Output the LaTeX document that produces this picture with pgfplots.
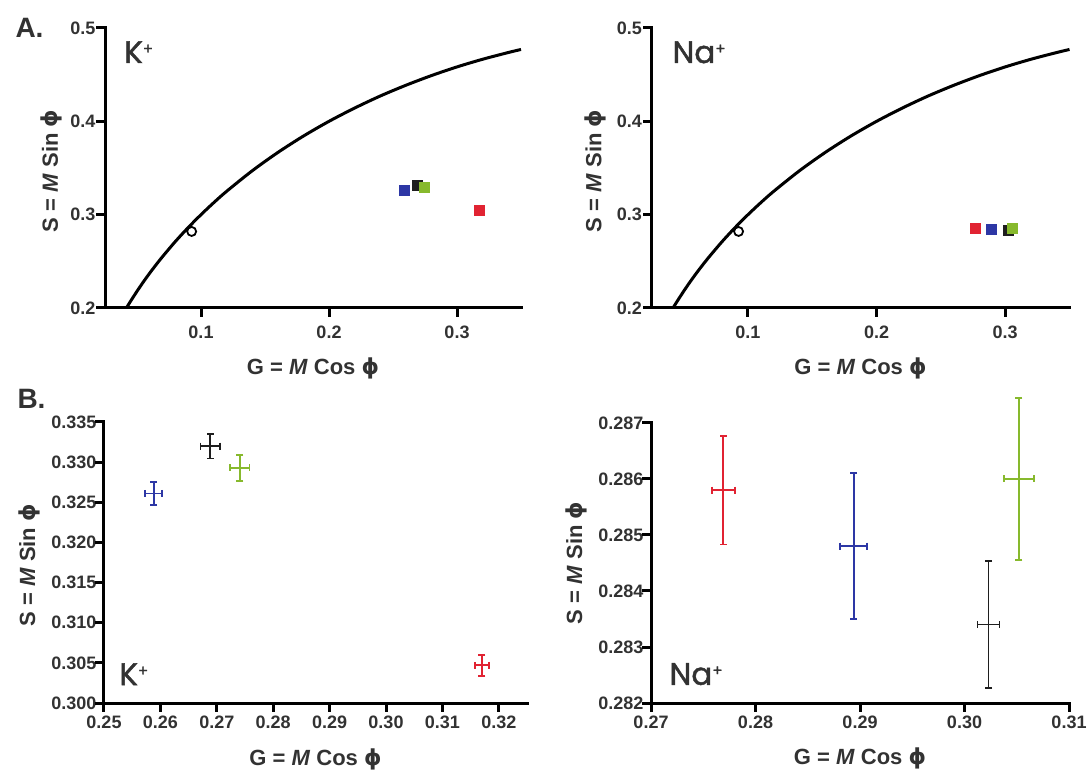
\documentclass[border=0pt]{standalone}
\usepackage{fontspec}
\setmainfont{Liberation Sans}
\newfontfamily\ionfont{Poppins}[FakeBold=1.5]
\newfontfamily\phifont{DejaVu Sans}
\usepackage{pgfplots}
\usepackage{pgfplotstable}
\pgfplotsset{compat=1.18}

\definecolor{cblue}{RGB}{45,55,165}
\definecolor{cred}{RGB}{225,35,50}
\definecolor{cgreen}{RGB}{135,185,45}
\definecolor{cblack}{RGB}{30,30,30}
\definecolor{labelgray}{RGB}{50,50,50}

\newcommand{\phisym}{{\phifont\bfseries ϕ}}

\pgfplotsset{
  panel/.style={
    scale only axis,
    axis x line=bottom, axis y line=left,
    x axis line style={-, line width=3pt},
    y axis line style={-, line width=3pt},
    tick align=outside, major tick length=0pt,
    tick label style={font=\fontsize{18}{18}\selectfont\bfseries, text=labelgray},
    label style={font=\fontsize{22}{22}\selectfont\bfseries, text=labelgray},
    /pgf/number format/assume math mode=true,
    clip=false,
    xlabel={G = \textit{M} Cos \phisym},
    ylabel={S = \textit{M} Sin \phisym},
  },
  phasor/.style={
    panel, xmin=0.025, xmax=0.35, ymin=0.2, ymax=0.5,
    xtick={0.1,0.2,0.3}, ytick={0.2,0.3,0.4,0.5},
    xticklabel shift=14pt, yticklabel shift=6pt,
    height=280pt,
  },
  sq/.style={only marks, mark=square*, mark size=5pt, color=#1, mark options={draw=#1, fill=#1}},
  % horizontal and vertical halves of an error cross, each with end caps
  hbar/.style={color=#1, line width=1.8pt, mark=|, mark size=3.5pt, mark options={line width=1.8pt}},
  vbar/.style={color=#1, line width=1.8pt, mark=-, mark size=3.5pt, mark options={line width=1.8pt}},
}
\tikzset{
  ion/.style={anchor=base west, font=\ionfont\fontsize{31}{31}\selectfont, text=labelgray},
  frame/.style={line width=3pt, black, line cap=rect},
  tk/.style={line width=3pt, black},
}
\newcommand{\ionplus}{\textsuperscript{\fontsize{15}{15}\selectfont +}}

% universal semicircle s = sqrt(g - g^2), tabulated
\pgfplotstableread{
g s
0.0417 0.2000
0.045 0.2073
0.050 0.2179
0.055 0.2280
0.060 0.2375
0.065 0.2465
0.070 0.2551
0.080 0.2713
0.090 0.2862
0.100 0.3000
0.110 0.3129
0.120 0.3250
0.140 0.3470
0.160 0.3666
0.180 0.3842
0.200 0.4000
0.220 0.4142
0.240 0.4271
0.260 0.4386
0.280 0.4490
0.300 0.4583
0.320 0.4665
0.340 0.4737
0.350 0.4770
}\semicircle

\begin{document}
\begin{tikzpicture}
\useasboundingbox (0,0) rectangle (1091pt,773pt);

% ---------------- A, K+ ----------------
\begin{axis}[phasor, at={(105pt,465pt)}, anchor=south west, width=416pt,
  xlabel style={at={(axis description cs:0.5,-0.239)}, anchor=base},
  ylabel style={at={(axis description cs:-0.113,0.49)}, anchor=base}]
\draw[frame] (rel axis cs:1,0) -- (rel axis cs:0,0) -- (rel axis cs:0,1);
\pgfplotsinvokeforeach{0.1,0.2,0.3}{\draw[tk] (axis cs:#1,0.2) -- ([yshift=-9pt]axis cs:#1,0.2);}
\pgfplotsinvokeforeach{0.2,0.3,0.4,0.5}{\draw[tk] (axis cs:0.025,#1) -- ([xshift=-9pt]axis cs:0.025,#1);}
\addplot[black, line width=3pt, smooth] table {\semicircle};
\addplot[only marks, mark=o, mark size=4.5pt, mark options={line width=1.8pt, draw=black, fill=white}] coordinates {(0.0927,0.282)};
\addplot[sq=cblue]  coordinates {(0.2588,0.3261)};
\addplot[sq=cblack] coordinates {(0.2688,0.3320)};
\addplot[sq=cgreen] coordinates {(0.2741,0.3293)};
\addplot[sq=cred]   coordinates {(0.3170,0.3047)};
\node[ion] at (axis description cs:0.038,0.875) {K\ionplus};
\end{axis}

% ---------------- A, Na+ ----------------
\begin{axis}[phasor, at={(651.5pt,465pt)}, anchor=south west, width=418pt,
  xlabel style={at={(axis description cs:0.5,-0.239)}, anchor=base},
  ylabel style={at={(axis description cs:-0.12,0.49)}, anchor=base}]
\draw[frame] (rel axis cs:1,0) -- (rel axis cs:0,0) -- (rel axis cs:0,1);
\pgfplotsinvokeforeach{0.1,0.2,0.3}{\draw[tk] (axis cs:#1,0.2) -- ([yshift=-9pt]axis cs:#1,0.2);}
\pgfplotsinvokeforeach{0.2,0.3,0.4,0.5}{\draw[tk] (axis cs:0.025,#1) -- ([xshift=-9pt]axis cs:0.025,#1);}
\addplot[black, line width=3pt, smooth] table {\semicircle};
\addplot[only marks, mark=o, mark size=4.5pt, mark options={line width=1.8pt, draw=black, fill=white}] coordinates {(0.0927,0.282)};
\addplot[sq=cred]   coordinates {(0.2769,0.2858)};
\addplot[sq=cblue]  coordinates {(0.2894,0.2848)};
\addplot[sq=cblack] coordinates {(0.3023,0.2834)};
\addplot[sq=cgreen] coordinates {(0.3052,0.2860)};
\node[ion] at (axis description cs:0.042,0.875) {Na\ionplus};
\end{axis}

% ---------------- B, K+ ----------------
% mean +- error: blue (0.2588,0.3261)+-(0.0015,0.0014), black (0.2688,0.3320)+-(0.0017,0.00155),
% green (0.2741,0.3293)+-(0.0017,0.0016), red (0.3170,0.3047)+-(0.0012,0.0013)
\begin{axis}[panel, at={(104pt,70pt)}, anchor=south west, width=423pt, height=281pt,
  xmin=0.25, xmax=0.325, ymin=0.300, ymax=0.335,
  xtick={0.25,0.26,0.27,0.28,0.29,0.30,0.31,0.32},
  ytick={0.300,0.305,0.310,0.315,0.320,0.325,0.330,0.335},
  xticklabel shift=9pt, yticklabel shift=4pt,
  xticklabel style={/pgf/number format/.cd, fixed, fixed zerofill, precision=2},
  yticklabel style={/pgf/number format/.cd, fixed, fixed zerofill, precision=3},
  xlabel style={at={(axis description cs:0.5,-0.221)}, anchor=base},
  ylabel style={at={(axis description cs:-0.163,0.49)}, anchor=base}]
\draw[frame] (rel axis cs:1,0) -- (rel axis cs:0,0) -- (rel axis cs:0,1);
\pgfplotsinvokeforeach{0.25,0.26,0.27,0.28,0.29,0.30,0.31,0.32}{\draw[tk] (axis cs:#1,0.3) -- ([yshift=-9pt]axis cs:#1,0.3);}
\pgfplotsinvokeforeach{0.300,0.305,0.310,0.315,0.320,0.325,0.330,0.335}{\draw[tk] (axis cs:0.25,#1) -- ([xshift=-9pt]axis cs:0.25,#1);}
\addplot[hbar=cblue]  coordinates {(0.2573,0.3261) (0.2603,0.3261)};
\addplot[vbar=cblue]  coordinates {(0.2588,0.3247) (0.2588,0.3275)};
\addplot[hbar=cblack] coordinates {(0.2671,0.3320) (0.2705,0.3320)};
\addplot[vbar=cblack] coordinates {(0.2688,0.33045) (0.2688,0.33355)};
\addplot[hbar=cgreen] coordinates {(0.2724,0.3293) (0.2758,0.3293)};
\addplot[vbar=cgreen] coordinates {(0.2741,0.3277) (0.2741,0.3309)};
\addplot[hbar=cred]   coordinates {(0.3158,0.3047) (0.3182,0.3047)};
\addplot[vbar=cred]   coordinates {(0.3170,0.3034) (0.3170,0.3060)};
\node[ion] at (axis description cs:0.028,0.064) {K\ionplus};
\end{axis}

% ---------------- B, Na+ ----------------
% mean +- error: red (0.2769,0.2858)+-(0.0011,0.00097), blue (0.2894,0.2848)+-(0.0013,0.0013),
% black (0.3023,0.2834)+-(0.00105,0.00113), green (0.3052,0.2860)+-(0.00145,0.00144)
\begin{axis}[panel, at={(651pt,70pt)}, anchor=south west, width=418pt, height=280pt,
  xmin=0.27, xmax=0.31, ymin=0.282, ymax=0.287,
  xtick={0.27,0.28,0.29,0.30,0.31}, ytick={0.282,0.283,0.284,0.285,0.286,0.287},
  xticklabel shift=9pt, yticklabel shift=4pt,
  xticklabel style={/pgf/number format/.cd, fixed, fixed zerofill, precision=2},
  yticklabel style={/pgf/number format/.cd, fixed, fixed zerofill, precision=3},
  xlabel style={at={(axis description cs:0.5,-0.221)}, anchor=base},
  ylabel style={at={(axis description cs:-0.165,0.5)}, anchor=base}]
\draw[frame] (rel axis cs:1,0) -- (rel axis cs:0,0) -- (rel axis cs:0,1);
\pgfplotsinvokeforeach{0.27,0.28,0.29,0.30,0.31}{\draw[tk] (axis cs:#1,0.282) -- ([yshift=-9pt]axis cs:#1,0.282);}
\pgfplotsinvokeforeach{0.282,0.283,0.284,0.285,0.286,0.287}{\draw[tk] (axis cs:0.27,#1) -- ([xshift=-9pt]axis cs:0.27,#1);}
\addplot[hbar=cred]   coordinates {(0.2758,0.2858) (0.2780,0.2858)};
\addplot[vbar=cred]   coordinates {(0.2769,0.28483) (0.2769,0.28677)};
\addplot[hbar=cblue]  coordinates {(0.2881,0.2848) (0.2907,0.2848)};
\addplot[vbar=cblue]  coordinates {(0.2894,0.2835) (0.2894,0.2861)};
\addplot[hbar=cblack] coordinates {(0.30125,0.2834) (0.30335,0.2834)};
\addplot[vbar=cblack] coordinates {(0.3023,0.28227) (0.3023,0.28453)};
\addplot[hbar=cgreen] coordinates {(0.30375,0.2860) (0.30665,0.2860)};
\addplot[vbar=cgreen] coordinates {(0.3052,0.28456) (0.3052,0.28744)};
\node[ion] at (axis description cs:0.036,0.065) {Na\ionplus};
\end{axis}

\node[anchor=base west, font=\fontsize{28}{28}\selectfont\bfseries, text=labelgray] at (12pt,735pt) {A.};
\node[anchor=base west, font=\fontsize{28}{28}\selectfont\bfseries, text=labelgray] at (14pt,364pt) {B.};
\end{tikzpicture}
\end{document}
